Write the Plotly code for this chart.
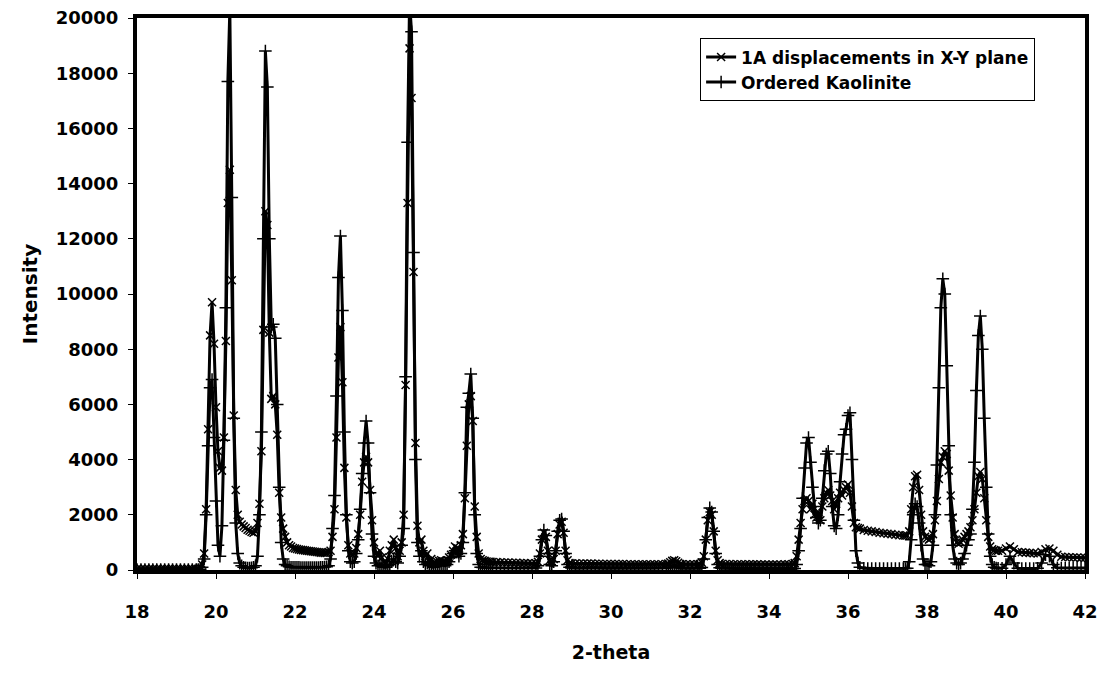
import plotly.graph_objects as go

# 2-theta positions (degrees)
two_theta = [
    18.0, 18.1, 18.2, 18.3, 18.4, 18.5, 18.6, 18.7, 18.8, 18.9, 19.0, 19.1, 19.2, 19.3, 19.4, 19.5,
    19.55, 19.60, 19.65, 19.70, 19.75, 19.80, 19.85, 19.90, 19.95, 20.00,
    20.05, 20.10, 20.15, 20.20, 20.25, 20.30, 20.35, 20.40, 20.45, 20.50,
    20.55, 20.60, 20.65, 20.70, 20.75, 20.80, 20.85, 20.90, 20.95, 21.00,
    21.05, 21.10, 21.15, 21.20, 21.25, 21.30, 21.35, 21.40, 21.45, 21.50,
    21.55, 21.60, 21.65, 21.70, 21.75, 21.80, 21.85, 21.90, 21.95, 22.00,
    22.05, 22.10, 22.15, 22.20, 22.25, 22.30, 22.35, 22.40, 22.45, 22.50,
    22.55, 22.60, 22.65, 22.70, 22.75, 22.80, 22.85, 22.90, 22.95, 23.00,
    23.05, 23.10, 23.15, 23.20, 23.25, 23.30, 23.35, 23.40, 23.45, 23.50,
    23.55, 23.60, 23.65, 23.70, 23.75, 23.80, 23.85, 23.90, 23.95, 24.00,
    24.05, 24.10, 24.15, 24.20, 24.25, 24.30, 24.35, 24.40, 24.45, 24.50,
    24.55, 24.60, 24.65, 24.70, 24.75, 24.80, 24.85, 24.90, 24.95, 25.00,
    25.05, 25.10, 25.15, 25.20, 25.25, 25.30, 25.35, 25.40, 25.45, 25.50,
    25.55, 25.60, 25.65, 25.70, 25.75, 25.80, 25.85, 25.90, 25.95, 26.00,
    26.05, 26.10, 26.15, 26.20, 26.25, 26.30, 26.35, 26.40, 26.45, 26.50,
    26.55, 26.60, 26.65, 26.70, 26.75, 26.80, 26.85, 26.90, 26.95, 27.00,
    27.1, 27.2, 27.3, 27.4, 27.5, 27.6, 27.7, 27.8, 27.9, 28.0, 28.1,
    28.15, 28.20, 28.25, 28.30, 28.35, 28.40, 28.45, 28.50, 28.55, 28.60,
    28.65, 28.70, 28.75, 28.80, 28.85, 28.90, 28.95, 29.00,
    29.1, 29.2, 29.3, 29.4, 29.5, 29.6, 29.7, 29.8, 29.9, 30.0, 30.1, 30.2,
    30.3, 30.4, 30.5, 30.6, 30.7, 30.8, 30.9, 31.0, 31.1, 31.2, 31.3, 31.4,
    31.45, 31.50, 31.55, 31.60, 31.65, 31.70, 31.75,
    31.8, 31.9, 32.0, 32.1, 32.2,
    32.25, 32.30, 32.35, 32.40, 32.45, 32.50, 32.55, 32.60, 32.65, 32.70, 32.75, 32.80,
    32.9, 33.0, 33.1, 33.2, 33.3, 33.4, 33.5, 33.6, 33.7, 33.8, 33.9, 34.0,
    34.1, 34.2, 34.3, 34.4, 34.5, 34.6,
    34.65, 34.70, 34.75, 34.80, 34.85, 34.90, 34.95, 35.00, 35.05, 35.10,
    35.15, 35.20, 35.25, 35.30, 35.35, 35.40, 35.45, 35.50, 35.55, 35.60,
    35.65, 35.70, 35.75, 35.80, 35.85, 35.90, 35.95, 36.00, 36.05, 36.10,
    36.15, 36.20, 36.25, 36.30,
    36.4, 36.5, 36.6, 36.7, 36.8, 36.9, 37.0, 37.1, 37.2, 37.3, 37.4,
    37.45, 37.50, 37.55, 37.60, 37.65, 37.70, 37.75, 37.80, 37.85, 37.90,
    37.95, 38.00, 38.05, 38.10, 38.15, 38.20, 38.25, 38.30, 38.35, 38.40,
    38.45, 38.50, 38.55, 38.60, 38.65, 38.70, 38.75, 38.80, 38.85, 38.90,
    38.95, 39.00, 39.05, 39.10, 39.15, 39.20, 39.25, 39.30, 39.35, 39.40,
    39.45, 39.50, 39.55, 39.60, 39.65, 39.70, 39.75, 39.80,
    39.9, 40.0, 40.1, 40.2, 40.3, 40.4, 40.5, 40.6, 40.7, 40.8, 40.9,
    41.0, 41.1, 41.2, 41.3, 41.4, 41.5, 41.6, 41.7, 41.8, 41.9, 42.0,
]

# Series 1: 1A displacements in X-Y plane
displaced = [
    40, 40, 40, 40, 40, 40, 40, 40, 40, 40, 40, 40, 40, 40, 40, 40,
    40, 60, 200, 600, 2200, 5100, 8500, 9700, 8200, 5900,
    4300, 3700, 3600, 4800, 8300, 13300, 14500, 10500, 5600, 2900,
    2000, 1750, 1650, 1580, 1520, 1460, 1420, 1380, 1350, 1400,
    1700, 2400, 4300, 8700, 13000, 12500, 8600, 6200, 6300, 6000,
    4900, 2800, 1900, 1500, 1200, 1000, 900, 850, 800, 780,
    760, 740, 730, 720, 710, 700, 690, 680, 670, 660,
    650, 640, 630, 625, 620, 620, 650, 700, 1200, 2200,
    4800, 7700, 8800, 6800, 3700, 1900, 900, 600, 550, 600,
    800, 1300, 2000, 3200, 3900, 4100, 3900, 2900, 1800, 1000,
    600, 500, 700, 450, 300, 250, 400, 700, 900, 1100,
    800, 500, 700, 1000, 2000, 6700, 13300, 18900, 17100, 10800,
    4600, 1600, 1000, 1100, 700, 500, 600, 300, 400, 250,
    280, 300, 330, 350, 320, 300, 350, 450, 550, 700,
    850, 800, 700, 900, 1300, 2600, 4500, 6000, 6300, 5400,
    2300, 1200, 600, 400, 350, 330, 310, 300, 300, 290,
    285, 280, 275, 270, 265, 260, 255, 250, 245, 240, 240,
    300, 600, 1100, 1350, 1200, 700, 350, 300, 400, 700,
    1300, 1650, 1750, 1350, 700, 350, 250, 240,
    240, 235, 235, 230, 230, 225, 225, 220, 220, 220, 215, 215,
    215, 210, 210, 210, 210, 205, 205, 205, 205, 205, 210, 215,
    230, 280, 330, 350, 320, 260, 220,
    210, 205, 205, 205, 210,
    220, 260, 500, 1100, 1800, 2100, 2000, 1400, 700, 350, 250, 220,
    215, 215, 210, 210, 210, 205, 205, 205, 205, 200, 200, 200,
    200, 200, 200, 205, 210, 220,
    250, 500, 1100, 1700, 2200, 2500, 2600, 2500, 2200, 2400,
    2000, 1900, 2100, 1800, 2300, 2600, 2800, 2900, 2700, 2500,
    2200, 2400, 2600, 2800, 2700, 2900, 3000, 3100, 2800, 2300,
    1700, 1550, 1520, 1500,
    1450, 1420, 1400, 1380, 1350, 1330, 1310, 1300, 1280, 1260, 1250,
    1250, 1250, 1400, 2200, 3000, 3400, 3450, 2900, 2000, 1400,
    1200, 1150, 1100, 1150, 1300, 1800, 2500, 3300, 3900, 4100,
    4300, 4200, 3600, 2700, 1900, 1300, 1000, 950, 1000, 1100,
    1200, 1300, 1400, 1550, 1800, 2200, 2800, 3400, 3550, 3300,
    2600, 1800, 1200, 850, 750, 720, 700, 700,
    700, 780, 850, 750, 650, 640, 630, 620, 610, 600, 650,
    750, 780, 700, 550, 480, 470, 460, 450, 450, 440, 440,
]

# Series 2: Ordered Kaolinite
ordered = [
    20, 20, 20, 20, 20, 20, 20, 20, 20, 20, 20, 20, 20, 20, 20, 20,
    20, 30, 100, 400, 2000, 4500, 6600, 6900, 4800, 2500,
    900, 500, 1600, 4700, 9500, 17700, 20300, 13500, 5500, 1700,
    600, 250, 150, 100, 80, 70, 70, 80, 100, 150,
    500, 2000, 5000, 12000, 18800, 17500, 12000, 8800, 8900, 8400,
    6000, 3000, 1000, 400, 200, 150, 120, 100, 100, 100,
    100, 100, 90, 90, 90, 90, 90, 90, 90, 90,
    90, 90, 100, 100, 110, 120, 150, 400, 1500, 2700,
    6300, 10600, 12100, 9400, 5000, 2000, 700, 300, 250, 300,
    600, 1100, 2200, 3500, 4600, 5400, 4600, 2800, 1300, 500,
    250, 150, 200, 150, 100, 100, 150, 200, 300, 400,
    300, 250, 500, 900, 1500, 7000, 15500, 20600, 19500, 11500,
    4000, 1000, 500, 700, 300, 200, 250, 150, 200, 100,
    120, 150, 180, 200, 180, 150, 200, 300, 450, 600,
    700, 650, 500, 600, 1000, 2800, 5900, 6400, 7100, 5500,
    2000, 600, 200, 100, 90, 80, 80, 80, 80, 80,
    80, 80, 75, 75, 70, 70, 70, 70, 70, 70, 70,
    150, 500, 1100, 1450, 1250, 600, 200, 150, 300, 700,
    1400, 1800, 1850, 1400, 600, 200, 100, 70,
    65, 65, 60, 60, 60, 60, 60, 55, 55, 55, 55, 55,
    55, 55, 55, 55, 55, 55, 55, 55, 55, 55, 60, 70,
    80, 110, 160, 180, 150, 100, 70,
    60, 55, 55, 55, 60,
    60, 90, 400, 1100, 1900, 2250, 2100, 1400, 600, 200, 80, 60,
    55, 55, 50, 50, 50, 50, 50, 50, 50, 50, 50, 50,
    50, 50, 50, 50, 50, 50,
    50, 200, 700, 1500, 2600, 3700, 4600, 4800, 3900, 3000,
    2300, 1900, 1700, 1800, 2600, 3600, 4200, 4300, 3500, 2300,
    1600, 1500, 2000, 3200, 4200, 4900, 5100, 5600, 5700, 4000,
    1800, 700, 250, 100,
    60, 50, 50, 50, 50, 50, 50, 50, 50, 50, 50,
    50, 60, 300, 1100, 2000, 2400, 2300, 1700, 900, 400,
    200, 200, 150, 300, 900, 2000, 3800, 6600, 9500, 10550,
    10000, 7400, 4500, 2000, 900, 400, 250, 200, 250, 400,
    600, 900, 1100, 1300, 2200, 3900, 6500, 8500, 9200, 8000,
    5500, 3000, 1300, 500, 200, 100, 70, 60,
    60, 200, 500, 250, 60, 50, 50, 50, 50, 60, 250,
    550, 500, 200, 80, 70, 70, 70, 70, 70, 70, 70,
]

series_names = ["1A displacements in X-Y plane", "Ordered Kaolinite"]
x_ticks = [18, 20, 22, 24, 26, 28, 30, 32, 34, 36, 38, 40, 42]
y_ticks = [0, 2000, 4000, 6000, 8000, 10000, 12000, 14000, 16000, 18000, 20000]

if not (len(two_theta) == len(displaced) == len(ordered)):
    raise SystemExit(f"length mismatch {len(two_theta)} {len(displaced)} {len(ordered)}")

FONT = "DejaVu Sans, Verdana, sans-serif"

fig = go.Figure()
fig.add_trace(go.Scatter(
    x=two_theta, y=displaced, name=series_names[0], mode="lines+markers",
    line=dict(color="black", width=3),
    marker=dict(symbol="x-thin", size=8, color="black", line=dict(color="black", width=1.5)),
))
fig.add_trace(go.Scatter(
    x=two_theta, y=ordered, name=series_names[1], mode="lines+markers",
    line=dict(color="black", width=3),
    marker=dict(symbol="cross-thin", size=9, color="black", line=dict(color="black", width=1.5)),
))

axis_common = dict(
    showline=True, linewidth=4, linecolor="black", mirror=True,
    ticks="outside", ticklen=5, tickwidth=1, tickcolor="black",
    showgrid=False, zeroline=False, automargin=False,
    tickfont=dict(family=FONT, size=18, color="black", weight="bold"),
)

fig.update_layout(
    width=1104, height=677,
    margin=dict(l=137, r=19, t=18, b=107),
    paper_bgcolor="white", plot_bgcolor="white",
    font=dict(family=FONT, color="black"),
    xaxis=dict(range=[18, 42], tickvals=x_ticks, ticktext=[str(v) for v in x_ticks],
               ticklabelstandoff=17,
               title=dict(text="2-theta", font=dict(family=FONT, size=19, weight="bold"), standoff=26),
               **axis_common),
    yaxis=dict(range=[0, 20000], tickvals=y_ticks, ticktext=[str(v) for v in y_ticks],
               ticklabelstandoff=6,
               title=dict(text="Intensity", font=dict(family=FONT, size=20, weight="bold"), standoff=14),
               **axis_common),
    legend=dict(x=0.594, y=0.963, xanchor="left", yanchor="top",
                bgcolor="white", bordercolor="black", borderwidth=1,
                font=dict(family=FONT, size=17, color="black", weight="bold"),
                itemwidth=30, tracegroupgap=0),
    showlegend=True,
)

fig.write_html("out.html")
